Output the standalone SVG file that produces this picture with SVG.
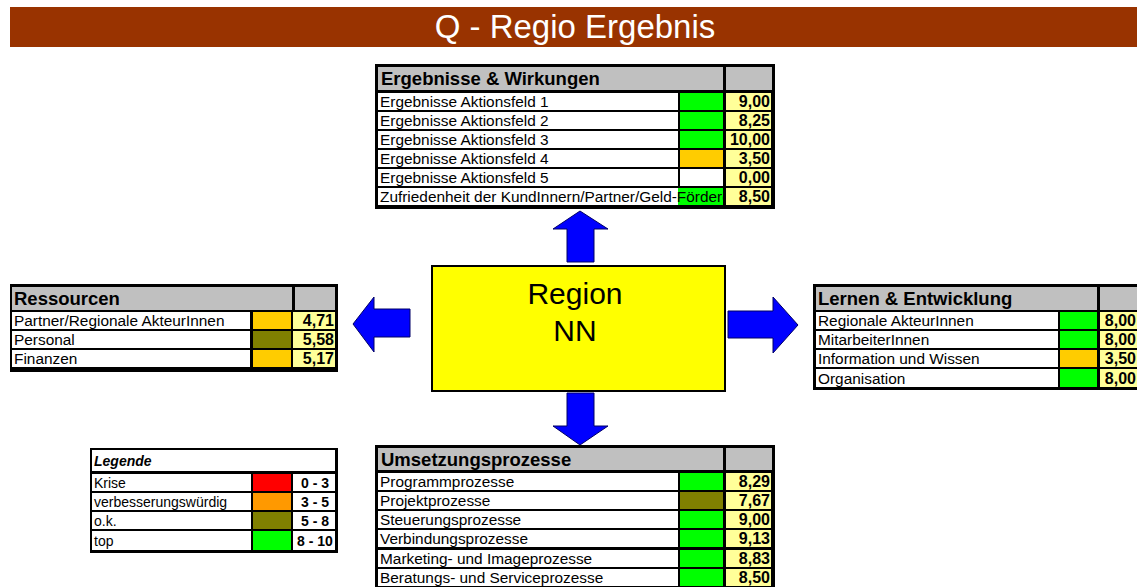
<svg xmlns="http://www.w3.org/2000/svg" width="1137" height="587" viewBox="0 0 1137 587">
  <style>
    text { font-family: "Liberation Sans", Arial, sans-serif; fill: #000; }
    .frame { fill: #000; }
    .hd { fill: #c0c0c0; }
    .cell { fill: #fff; }
    .val { fill: #ffff99; }
    .g { fill: #00ff00; }
    .am { fill: #ffcc00; }
    .ol { fill: #808000; }
    .rd { fill: #ff0000; }
    .or { fill: #ff9900; }
    .ht { font-size: 18.5px; font-weight: bold; }
    .rt { font-size: 15.4px; }
    .vt { font-size: 16px; font-weight: bold; text-anchor: end; }
    .lt { font-size: 14px; font-weight: bold; text-anchor: middle; }
    .arrow { fill: #0000ff; stroke: #000066; stroke-width: 1; }
  </style>

  <!-- title banner -->
  <g id="title">
    <rect x="10" y="7" width="1127" height="40" fill="#993300"/>
    <text x="575" y="38" text-anchor="middle" style="font-size:33px; fill:#fff">Q - Regio Ergebnis</text>
  </g>

  <!-- arrows leading out of the central region box -->
  <g id="connectors">
    <polygon class="arrow" points="567,262 567,229 553,229 580,211 608,229 594,229 594,262"/>
    <polygon class="arrow" points="567,393 594,393 594,426 608,426 580,445 553,426 567,426"/>
    <polygon class="arrow" points="410,309 374,309 374,297 353,324 374,352 374,337 410,337"/>
    <polygon class="arrow" points="728,311 773,311 773,297 798,325 773,353 773,338 728,338"/>
  </g>

  <!-- central region -->
  <g id="region">
    <rect x="432" y="266" width="293" height="125" fill="#ffff00" stroke="#000" stroke-width="2"/>
    <text x="575" y="304" text-anchor="middle" style="font-size:30px">Region</text>
    <text x="575" y="341" text-anchor="middle" style="font-size:30px">NN</text>
  </g>

  <!-- Ergebnisse & Wirkungen -->
  <g id="ergebnisse">
    <rect class="frame" x="375" y="64" width="400" height="145"/>
    <rect class="hd" x="378" y="67" width="345" height="23"/>
    <rect class="hd" x="726" y="67" width="46" height="23"/>
    <text class="ht" x="381" y="85">Ergebnisse &amp; Wirkungen</text>

    <rect class="cell" x="378" y="93" width="300" height="17"/>
    <rect class="g" x="680" y="93" width="43" height="17"/>
    <rect class="val" x="726" y="93" width="45" height="17"/>
    <text class="rt" x="380" y="107">Ergebnisse Aktionsfeld 1</text>
    <text class="vt" x="770" y="107">9,00</text>

    <rect class="cell" x="378" y="112" width="300" height="17"/>
    <rect class="g" x="680" y="112" width="43" height="17"/>
    <rect class="val" x="726" y="112" width="45" height="17"/>
    <text class="rt" x="380" y="126">Ergebnisse Aktionsfeld 2</text>
    <text class="vt" x="770" y="126">8,25</text>

    <rect class="cell" x="378" y="131" width="300" height="17"/>
    <rect class="g" x="680" y="131" width="43" height="17"/>
    <rect class="val" x="726" y="131" width="45" height="17"/>
    <text class="rt" x="380" y="145">Ergebnisse Aktionsfeld 3</text>
    <text class="vt" x="770" y="145">10,00</text>

    <rect class="cell" x="378" y="150" width="300" height="17"/>
    <rect class="am" x="680" y="150" width="43" height="17"/>
    <rect class="val" x="726" y="150" width="45" height="17"/>
    <text class="rt" x="380" y="164">Ergebnisse Aktionsfeld 4</text>
    <text class="vt" x="770" y="164">3,50</text>

    <rect class="cell" x="378" y="169" width="300" height="17"/>
    <rect class="cell" x="680" y="169" width="43" height="17"/>
    <rect class="val" x="726" y="169" width="45" height="17"/>
    <text class="rt" x="380" y="183">Ergebnisse Aktionsfeld 5</text>
    <text class="vt" x="770" y="183">0,00</text>

    <rect class="cell" x="378" y="188" width="300" height="17"/>
    <rect class="g" x="678" y="188" width="45" height="17"/>
    <rect class="val" x="726" y="188" width="45" height="17"/>
    <svg x="378" y="188" width="345" height="17" overflow="hidden">
      <text class="rt" x="2" y="14">Zufriedenheit der KundInnern/Partner/Geld-Förderer</text>
    </svg>
    <text class="vt" x="770" y="202">8,50</text>
  </g>

  <!-- Ressourcen -->
  <g id="ressourcen">
    <rect class="frame" x="10" y="284" width="328" height="88"/>
    <rect class="hd" x="12" y="287" width="280" height="23"/>
    <rect class="hd" x="295" y="287" width="40" height="23"/>
    <text class="ht" x="14" y="305">Ressourcen</text>

    <rect class="cell" x="12" y="312" width="238" height="17"/>
    <rect class="am" x="253" y="312" width="38" height="17"/>
    <rect class="val" x="293" y="312" width="42" height="17"/>
    <text class="rt" x="14" y="326">Partner/Regionale AkteurInnen</text>
    <text class="vt" x="334" y="326">4,71</text>

    <rect class="cell" x="12" y="331" width="238" height="17"/>
    <rect class="ol" x="253" y="331" width="38" height="17"/>
    <rect class="val" x="293" y="331" width="42" height="17"/>
    <text class="rt" x="14" y="345">Personal</text>
    <text class="vt" x="334" y="345">5,58</text>

    <rect class="cell" x="12" y="350" width="238" height="17"/>
    <rect class="am" x="253" y="350" width="38" height="17"/>
    <rect class="val" x="293" y="350" width="42" height="17"/>
    <text class="rt" x="14" y="364">Finanzen</text>
    <text class="vt" x="334" y="364">5,17</text>
  </g>

  <!-- Lernen & Entwicklung -->
  <g id="lernen">
    <rect class="frame" x="813" y="284" width="340" height="106"/>
    <rect class="hd" x="816" y="287" width="281" height="23"/>
    <rect class="hd" x="1100" y="287" width="50" height="23"/>
    <text class="ht" x="818" y="305">Lernen &amp; Entwicklung</text>

    <rect class="cell" x="816" y="312" width="242" height="17"/>
    <rect class="g" x="1060" y="312" width="37" height="17"/>
    <rect class="val" x="1100" y="312" width="50" height="17"/>
    <text class="rt" x="818" y="326">Regionale AkteurInnen</text>
    <text class="vt" x="1136" y="326">8,00</text>

    <rect class="cell" x="816" y="331" width="242" height="17"/>
    <rect class="g" x="1060" y="331" width="37" height="17"/>
    <rect class="val" x="1100" y="331" width="50" height="17"/>
    <text class="rt" x="818" y="345">MitarbeiterInnen</text>
    <text class="vt" x="1136" y="345">8,00</text>

    <rect class="cell" x="816" y="350" width="242" height="17"/>
    <rect class="am" x="1060" y="350" width="37" height="17"/>
    <rect class="val" x="1100" y="350" width="50" height="17"/>
    <text class="rt" x="818" y="364">Information und Wissen</text>
    <text class="vt" x="1136" y="364">3,50</text>

    <rect class="cell" x="816" y="369" width="242" height="18"/>
    <rect class="g" x="1060" y="369" width="37" height="18"/>
    <rect class="val" x="1100" y="369" width="50" height="18"/>
    <text class="rt" x="818" y="384">Organisation</text>
    <text class="vt" x="1136" y="384">8,00</text>
  </g>

  <!-- Legende -->
  <g id="legende">
    <rect class="frame" x="90" y="448" width="248" height="105"/>
    <rect class="cell" x="92" y="450" width="243" height="21"/>
    <text x="94" y="466" style="font-size:14px; font-weight:bold; font-style:italic">Legende</text>

    <rect class="cell" x="92" y="474" width="159" height="17"/>
    <rect class="rd" x="253" y="474" width="38" height="17"/>
    <rect class="cell" x="293" y="474" width="42" height="17"/>
    <text class="rt" x="94" y="488" style="font-size:14px">Krise</text>
    <text class="lt" x="315" y="488">0 - 3</text>

    <rect class="cell" x="92" y="493" width="159" height="17"/>
    <rect class="or" x="253" y="493" width="38" height="17"/>
    <rect class="cell" x="293" y="493" width="42" height="17"/>
    <text class="rt" x="94" y="507" style="font-size:14px">verbesserungswürdig</text>
    <text class="lt" x="315" y="507">3 - 5</text>

    <rect class="cell" x="92" y="512" width="159" height="17"/>
    <rect class="ol" x="253" y="512" width="38" height="17"/>
    <rect class="cell" x="293" y="512" width="42" height="17"/>
    <text class="rt" x="94" y="526" style="font-size:14px">o.k.</text>
    <text class="lt" x="315" y="526">5 - 8</text>

    <rect class="cell" x="92" y="531" width="159" height="19"/>
    <rect class="g" x="253" y="531" width="38" height="19"/>
    <rect class="cell" x="293" y="531" width="42" height="19"/>
    <text class="rt" x="94" y="546" style="font-size:14px">top</text>
    <text class="lt" x="315" y="546">8 - 10</text>
  </g>

  <!-- Umsetzungsprozesse -->
  <g id="umsetzung">
    <rect class="frame" x="375" y="445" width="400" height="150"/>
    <rect class="hd" x="378" y="448" width="345" height="22"/>
    <rect class="hd" x="726" y="448" width="46" height="22"/>
    <text class="ht" x="381" y="466">Umsetzungsprozesse</text>

    <rect class="cell" x="378" y="473" width="300" height="17"/>
    <rect class="g" x="680" y="473" width="43" height="17"/>
    <rect class="val" x="726" y="473" width="45" height="17"/>
    <text class="rt" x="380" y="487">Programmprozesse</text>
    <text class="vt" x="770" y="487">8,29</text>

    <rect class="cell" x="378" y="492" width="300" height="17"/>
    <rect class="ol" x="680" y="492" width="43" height="17"/>
    <rect class="val" x="726" y="492" width="45" height="17"/>
    <text class="rt" x="380" y="506">Projektprozesse</text>
    <text class="vt" x="770" y="506">7,67</text>

    <rect class="cell" x="378" y="511" width="300" height="17"/>
    <rect class="g" x="680" y="511" width="43" height="17"/>
    <rect class="val" x="726" y="511" width="45" height="17"/>
    <text class="rt" x="380" y="525">Steuerungsprozesse</text>
    <text class="vt" x="770" y="525">9,00</text>

    <rect class="cell" x="378" y="530" width="300" height="17"/>
    <rect class="g" x="680" y="530" width="43" height="17"/>
    <rect class="val" x="726" y="530" width="45" height="17"/>
    <text class="rt" x="380" y="544">Verbindungsprozesse</text>
    <text class="vt" x="770" y="544">9,13</text>

    <rect class="cell" x="378" y="550" width="300" height="17"/>
    <rect class="g" x="680" y="550" width="43" height="17"/>
    <rect class="val" x="726" y="550" width="45" height="17"/>
    <text class="rt" x="380" y="564">Marketing- und Imageprozesse</text>
    <text class="vt" x="770" y="564">8,83</text>

    <rect class="cell" x="378" y="569" width="300" height="17"/>
    <rect class="g" x="680" y="569" width="43" height="17"/>
    <rect class="val" x="726" y="569" width="45" height="17"/>
    <text class="rt" x="380" y="583">Beratungs- und Serviceprozesse</text>
    <text class="vt" x="770" y="583">8,50</text>
  </g>
</svg>
